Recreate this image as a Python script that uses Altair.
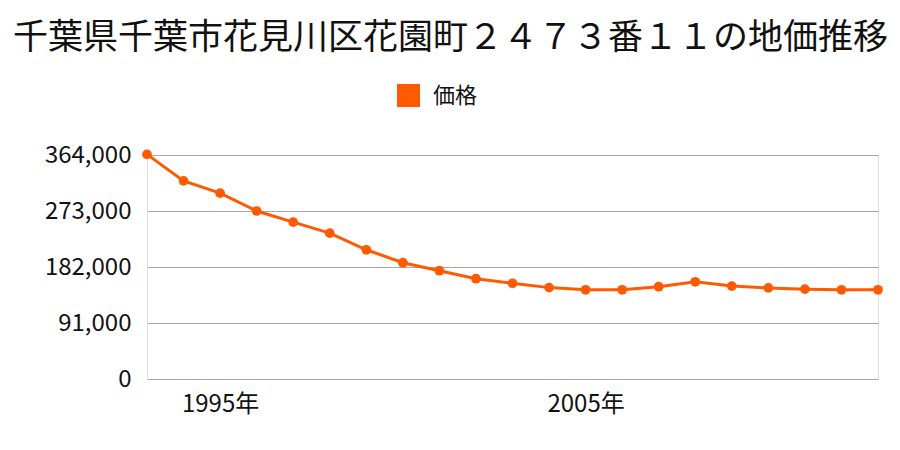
import altair as alt
import pandas as pd

years = list(range(1993, 2014))
prices = [365000, 322000, 302000, 273000, 255000, 237000, 210000, 189000, 176000,
          163000, 155500, 148500, 145000, 145000, 150000, 158000, 151000, 148000,
          146000, 145000, 145000]
series = ["価格"] * len(years)
y_ticks = [0, 91000, 182000, 273000, 364000]
x_ticks = [1995, 2005]

df = pd.DataFrame({"year": years, "price": prices, "series": series})

FONT = "Noto Sans CJK JP"
ORANGE = "#ff5a00"

color = alt.Color(
    "series:N",
    scale=alt.Scale(domain=["価格"], range=[ORANGE]),
    legend=alt.Legend(
        title=None, orient="none", legendX=250, legendY=-71,
        symbolType="square", symbolSize=529, symbolStrokeWidth=0,
        symbolOpacity=1, symbolFillColor=ORANGE,
        labelFontSize=22, labelFont=FONT, labelColor="#111", labelOffset=13,
    ),
)

x = alt.X("year:Q", scale=alt.Scale(domain=[1993, 2013], nice=False, zero=False),
          axis=alt.Axis(values=x_ticks, labelExpr="datum.value + '年'", title=None,
                        grid=False, domain=False, ticks=False, labelPadding=13,
                        labelFontSize=24, labelFont=FONT, labelColor="#111"))
y = alt.Y("price:Q", scale=alt.Scale(domain=[0, 364000], nice=False),
          axis=alt.Axis(values=y_ticks, format=",d", title=None, grid=True,
                        gridColor="#aaaaaa", gridWidth=1.2, domain=False, ticks=False,
                        labelPadding=16, labelFontSize=24, labelFont=FONT,
                        labelColor="#111"))

line = alt.Chart(df).mark_line(strokeWidth=3, clip=False).encode(x=x, y=y, color=color)
pts = alt.Chart(df).mark_circle(size=95, opacity=1, clip=False).encode(
    x="year:Q", y="price:Q", color=alt.Color("series:N", legend=None,
                                             scale=alt.Scale(domain=["価格"], range=[ORANGE])))

chart = alt.layer(line, pts).properties(
    width=731, height=224,
    title=alt.TitleParams(
        "千葉県千葉市花見川区花園町２４７３番１１の地価推移",
        fontSize=35, font=FONT, fontWeight="normal", color="#111",
        anchor="middle", frame="group", dx=-62, offset=28,
    ),
    autosize=alt.AutoSizeParams(type="none"),
    padding={"left": 147, "top": 155, "right": 22, "bottom": 71},
).configure_view(stroke=None).configure(background="white")

chart.save("out.html", embed_options={"renderer": "svg", "actions": False})
